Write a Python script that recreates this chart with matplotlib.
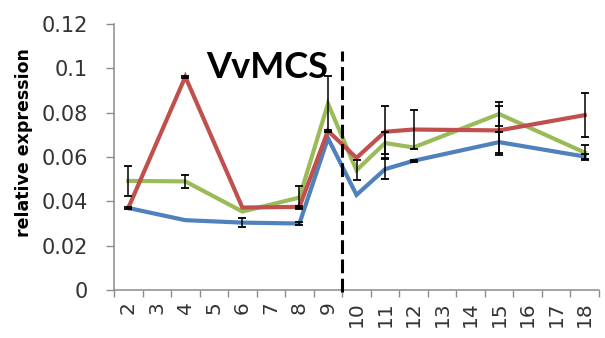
import numpy as np
import matplotlib
matplotlib.use('Agg')
import matplotlib.pyplot as plt
from matplotlib.ticker import FixedLocator, FuncFormatter

# sampling days shown on the category axis
categories = [str(d) for d in range(2, 19)]
days = [2, 4, 6, 8, 9, 10, 11, 12, 15, 18]

blue = [0.0370, 0.0315, 0.0304, 0.0300, 0.0685, 0.0429, 0.0545, 0.0583, 0.0667, 0.0602]
red = [0.0370, 0.0962, 0.0372, 0.0375, 0.0718, 0.0596, 0.0714, 0.0724, 0.0720, 0.0789]
green = [0.0492, 0.0490, 0.0354, 0.0417, 0.0841, 0.0540, 0.0663, 0.0643, 0.0794, 0.0620]

blue_err = [0.0005, 0, 0.0020, 0.0005, 0, 0, 0.0045, 0.0005, 0.0048, 0.0010]
red_err = [0, 0.0005, 0, 0.0005, 0.0005, 0, 0.0117, 0.0087, 0.0110, 0.0100]
green_err = [0.0068, 0.0030, 0, 0.0050, 0.0126, 0.0045, 0.0050, 0, 0.0052, 0.0033]

yticks = [0, 0.02, 0.04, 0.06, 0.08, 0.10, 0.12]

axis_grey = '#8c8c8c'
text_grey = '#333333'

fig = plt.figure(figsize=(6.05, 3.38), dpi=100)
ax = fig.add_axes([114 / 605, 48 / 338, 485 / 605, 266 / 338])

xpos = np.array([categories.index(str(d)) for d in days])

series = [
    (blue, blue_err, '#4f81bd'),
    (green, green_err, '#9bbb59'),
    (red, red_err, '#c0504d'),
]
for vals, errs, col in series:
    ax.plot(xpos, vals, color=col, lw=3.0, solid_joinstyle='miter', zorder=3)

for vals, errs, col in series:
    vals = np.array(vals)
    errs = np.array(errs)
    m = errs > 0
    ax.errorbar(xpos[m], vals[m], yerr=errs[m], fmt='none', ecolor='black',
                elinewidth=1.1, capsize=3, capthick=1.3, zorder=4)

# separator between day 9 and day 10
sep = categories.index('9') + 0.5
ax.plot([sep, sep], [-0.0008, 0.108], color='black', lw=2.2,
        dashes=(4.5, 1.8), clip_on=False, zorder=5)

ax.text(2.74, 0.0958, 'VvMCS', family='Lato', fontweight='bold', fontsize=26,
        ha='left', va='baseline', color='black', zorder=6)

ax.set_xlim(-0.5, len(categories) - 0.5)
ax.set_ylim(0, 0.12)

ax.set_xticks(range(len(categories)))
ax.set_xticklabels(categories, rotation=90, fontsize=14.5, color=text_grey)
ax.xaxis.set_minor_locator(FixedLocator(np.arange(-0.5, len(categories), 1.0)))
ax.tick_params(axis='x', which='major', length=0, pad=8)
ax.tick_params(axis='x', which='minor', length=5, width=1.0, color=axis_grey)

ax.set_yticks(yticks)
ax.yaxis.set_major_formatter(FuncFormatter(lambda v, p: '{:g}'.format(round(v, 2))))
ax.tick_params(axis='y', length=5.8, width=1.0, color=axis_grey, pad=13,
               labelsize=15, labelcolor=text_grey)

for s in ['top', 'right']:
    ax.spines[s].set_visible(False)
for s in ['left', 'bottom']:
    ax.spines[s].set_color(axis_grey)
    ax.spines[s].set_linewidth(1.1)

fig.text(24 / 605, 1 - 142.5 / 338, 'relative expression', rotation=90,
         fontsize=12.5, fontweight='bold', ha='center', va='center', color='black')

fig.savefig('out.png', dpi=100)
